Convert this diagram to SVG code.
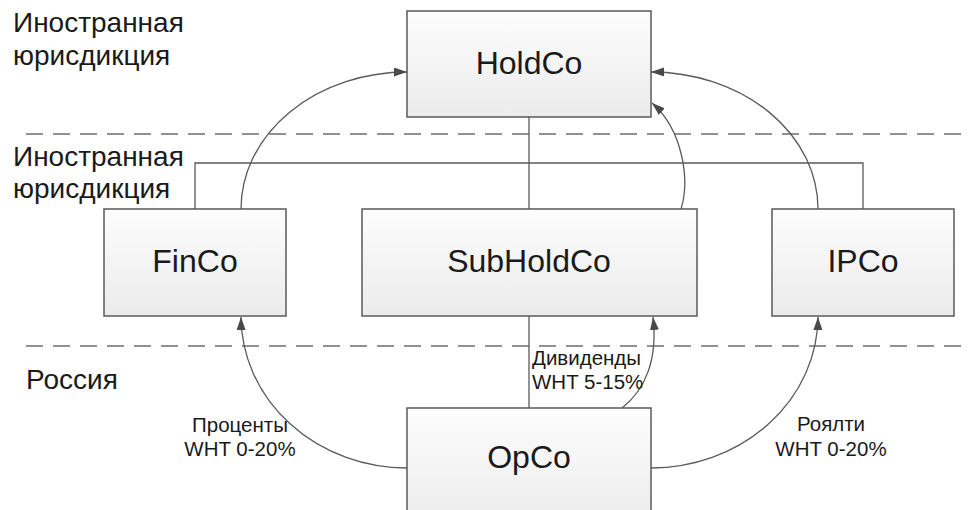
<svg xmlns="http://www.w3.org/2000/svg" width="971" height="510" viewBox="0 0 971 510">
  <style>
    .box { stroke: #5a5a5a; stroke-width: 1.5; fill: url(#boxFill); }
    .name { font-family: "Liberation Sans", Arial, sans-serif; font-size: 32px; fill: #1a1a1a; text-anchor: middle; }
    .zone { font-family: "Liberation Sans", Arial, sans-serif; font-size: 28px; fill: #1a1a1a; }
    .flow { font-family: "Liberation Sans", Arial, sans-serif; font-size: 20.5px; fill: #1a1a1a; }
    .border { stroke: #6e6e6e; stroke-width: 1.5; stroke-dasharray: 17 10; fill: none; }
    .own { stroke: #5a5a5a; stroke-width: 1.3; fill: none; }
    .pay { stroke: #5a5a5a; stroke-width: 1.3; fill: none; marker-end: url(#arrow); }
  </style>
  <defs>
    <linearGradient id="boxFill" x1="0" y1="0" x2="0" y2="1">
      <stop offset="0" stop-color="#fdfdfd"/>
      <stop offset="1" stop-color="#ebebeb"/>
    </linearGradient>
    <marker id="arrow" markerUnits="userSpaceOnUse" markerWidth="14" markerHeight="10" refX="13" refY="4.5" orient="auto">
      <path d="M0,0 L13,4.5 L0,9 z" fill="#4a4a4a"/>
    </marker>
  </defs>

  <rect width="971" height="510" fill="#ffffff"/>

  <!-- jurisdiction borders and captions -->
  <g id="zones">
    <line class="border" x1="26" y1="134" x2="971" y2="134"/>
    <line class="border" x1="26" y1="346" x2="971" y2="346"/>
    <text class="zone" x="13" y="32">Иностранная</text>
    <text class="zone" x="13" y="65">юрисдикция</text>
    <text class="zone" x="13" y="166">Иностранная</text>
    <text class="zone" x="13" y="198">юрисдикция</text>
    <text class="zone" x="26" y="389">Россия</text>
  </g>

  <!-- ownership lines and payment flows -->
  <g id="connectors">
    <path class="own" d="M529,117 V209"/>
    <path class="own" d="M195,209 V163 H863 V209"/>
    <path class="own" d="M529,316 V408"/>
    <path class="pay" d="M241,209 A166,137 0 0 1 407,72"/>
    <path class="pay" d="M818,209 A167,137 0 0 0 651,72"/>
    <path class="pay" d="M681,209 C690,180 683,130 652,103"/>
    <path class="pay" d="M407,468 A166,152 0 0 1 241,317"/>
    <path class="pay" d="M651,468 A167,152 0 0 0 818,317"/>
    <path class="pay" d="M622,408 C645,390 658,360 653,317"/>
  </g>

  <g id="HoldCo">
    <rect class="box" x="407" y="11" width="244" height="106"/>
    <text class="name" x="529" y="74">HoldCo</text>
  </g>
  <g id="FinCo">
    <rect class="box" x="104" y="209" width="182" height="107"/>
    <text class="name" x="195" y="272">FinCo</text>
  </g>
  <g id="SubHoldCo">
    <rect class="box" x="362" y="209" width="335" height="107"/>
    <text class="name" x="529" y="272">SubHoldCo</text>
  </g>
  <g id="IPCo">
    <rect class="box" x="772" y="209" width="182" height="107"/>
    <text class="name" x="863" y="272">IPCo</text>
  </g>
  <g id="OpCo">
    <rect class="box" x="407" y="408" width="244" height="120"/>
    <text class="name" x="529" y="468">OpCo</text>
  </g>

  <!-- flow labels -->
  <g id="labels">
    <text class="flow" x="532" y="365">Дивиденды</text>
    <text class="flow" x="532" y="389">WHT 5-15%</text>
    <text class="flow" x="240" y="432" text-anchor="middle">Проценты</text>
    <text class="flow" x="240" y="456" text-anchor="middle">WHT 0-20%</text>
    <text class="flow" x="831" y="431" text-anchor="middle">Роялти</text>
    <text class="flow" x="831" y="456" text-anchor="middle">WHT 0-20%</text>
  </g>
</svg>
